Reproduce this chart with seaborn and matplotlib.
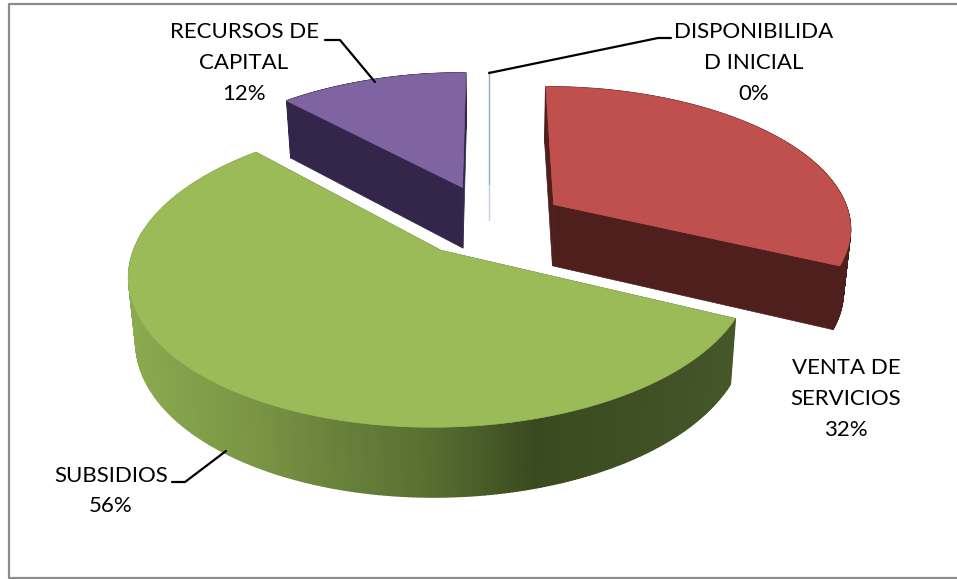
import matplotlib
matplotlib.use('Agg')
import matplotlib.pyplot as plt
import numpy as np
import seaborn as sns
from matplotlib.patches import Polygon

# chart data
names = ['DISPONIBILIDA\nD INICIAL', 'VENTA DE\nSERVICIOS', 'SUBSIDIOS', 'RECURSOS DE\nCAPITAL']
values = [0, 32, 56, 12]
top_colors = ['#4f81bd', '#c0504d', '#9bbb59', '#8064a2']
side_colors = ['#4f81bd', '#4f1f1d', '#44562a', '#33264a']

# label centre, leader line and small pixel nudge per slice
label_pos = [(754, 63), (846, 399), (111, 491), (244, 63)]
leaders = [[(489, 73), (658, 38), (671, 38)],
           None,
           [(172, 482), (185, 482), (226, 451)],
           [(325, 40), (340, 40), (375, 82)]]
nudges = [(0, 0), (3, 4), (-3, 2), (0, 0)]

sns.set_theme(style='white')
plt.rcParams['font.family'] = ['Lato', 'DejaVu Sans']

# pie geometry
cx, cy = 489, 219
rx, ry = 298, 140.6
persp = 0.15
explode = 0.25
depth = 62


def project(angle, mid, cut=1.0):
    # angle clockwise from 12 o'clock, slice pushed out along its middle angle
    px = explode * np.sin(mid) + np.sin(angle) * cut
    ps = -explode * np.cos(mid) - np.cos(angle) * cut
    w = 1 / (1 - persp * ps)
    return cx + rx * px * w, cy + ry * ps * w, w


def lower(x, y, w):
    return cx + (x - cx) * 0.98, y + depth * w ** 0.6


# green wall shading follows the horizontal position
shade_x = [120, 250, 350, 430, 535, 640, 740]
shade_rgb = np.array([[0x8c, 0xab, 0x50], [0x7a, 0x96, 0x45], [0x66, 0x7f, 0x3a], [0x57, 0x70, 0x32],
                      [0x3a, 0x4a, 0x20], [0x3e, 0x50, 0x24], [0x46, 0x58, 0x2a]]) / 255

fig = plt.figure(figsize=(9.57, 5.79), dpi=100)
ax = fig.add_axes([0, 0, 1, 1])
ax.set_xlim(0, 957)
ax.set_ylim(579, 0)
ax.axis('off')

# chart frame, open on the right where the picture was cropped
ax.plot([957, 8.5, 8.5, 957], [4, 4, 578, 578], color='#8c8c8c', lw=1.6)

fracs = np.array(values) / sum(values)
ends = np.cumsum(fracs) * 2 * np.pi
starts = ends - fracs * 2 * np.pi

# back slices first so the front ones paint over them
for i in [0, 3, 1, 2]:
    a0, a1 = starts[i], ends[i]
    mid = (a0 + a1) / 2
    ox, oy, ow = project(mid, mid, 0)
    if values[i] == 0:
        x, y, w = project(a0, mid)
        ax.plot([ox, x], [oy, y], color='#8fa9cf', lw=1)
        ax.plot([ox, ox], [oy, oy + 35], color='#c3d0e3', lw=1)
        continue
    t = np.linspace(a0, a1, 300)
    px, py, pw = project(t, mid)
    bx, by = lower(px, py, pw)
    obx, oby = lower(ox, oy, ow)
    dx, dy = nudges[i]
    ox, obx, px, bx = ox + dx, obx + dx, px + dx, bx + dx
    oy, oby, py, by = oy + dy, oby + dy, py + dy, by + dy

    # cut walls
    for k in [0, -1]:
        ax.add_patch(Polygon([(ox, oy), (px[k], py[k]), (bx[k], by[k]), (obx, oby)],
                             fc=side_colors[i], ec=side_colors[i], lw=0.5))
    # rim
    for k in range(len(t) - 1):
        if i == 2:
            col = [np.interp(px[k], shade_x, shade_rgb[:, n]) for n in range(3)]
        else:
            col = side_colors[i]
        ax.add_patch(Polygon([(px[k], py[k]), (px[k + 1], py[k + 1]),
                              (bx[k + 1], by[k + 1]), (bx[k], by[k])], fc=col, ec=col, lw=1))
    # top face
    pts = [(ox, oy)] + list(zip(px, py))
    ax.add_patch(Polygon(pts, fc=top_colors[i], ec=top_colors[i], lw=0.5))

for name, v, pos, line in zip(names, values, label_pos, leaders):
    ax.text(pos[0], pos[1], f'{name}\n{v}%', ha='center', va='center', fontsize=16,
            color='black', linespacing=1.68)
    if line:
        ax.plot([p[0] for p in line], [p[1] for p in line], color='black', lw=1.6)

fig.savefig('out.png', dpi=100)
